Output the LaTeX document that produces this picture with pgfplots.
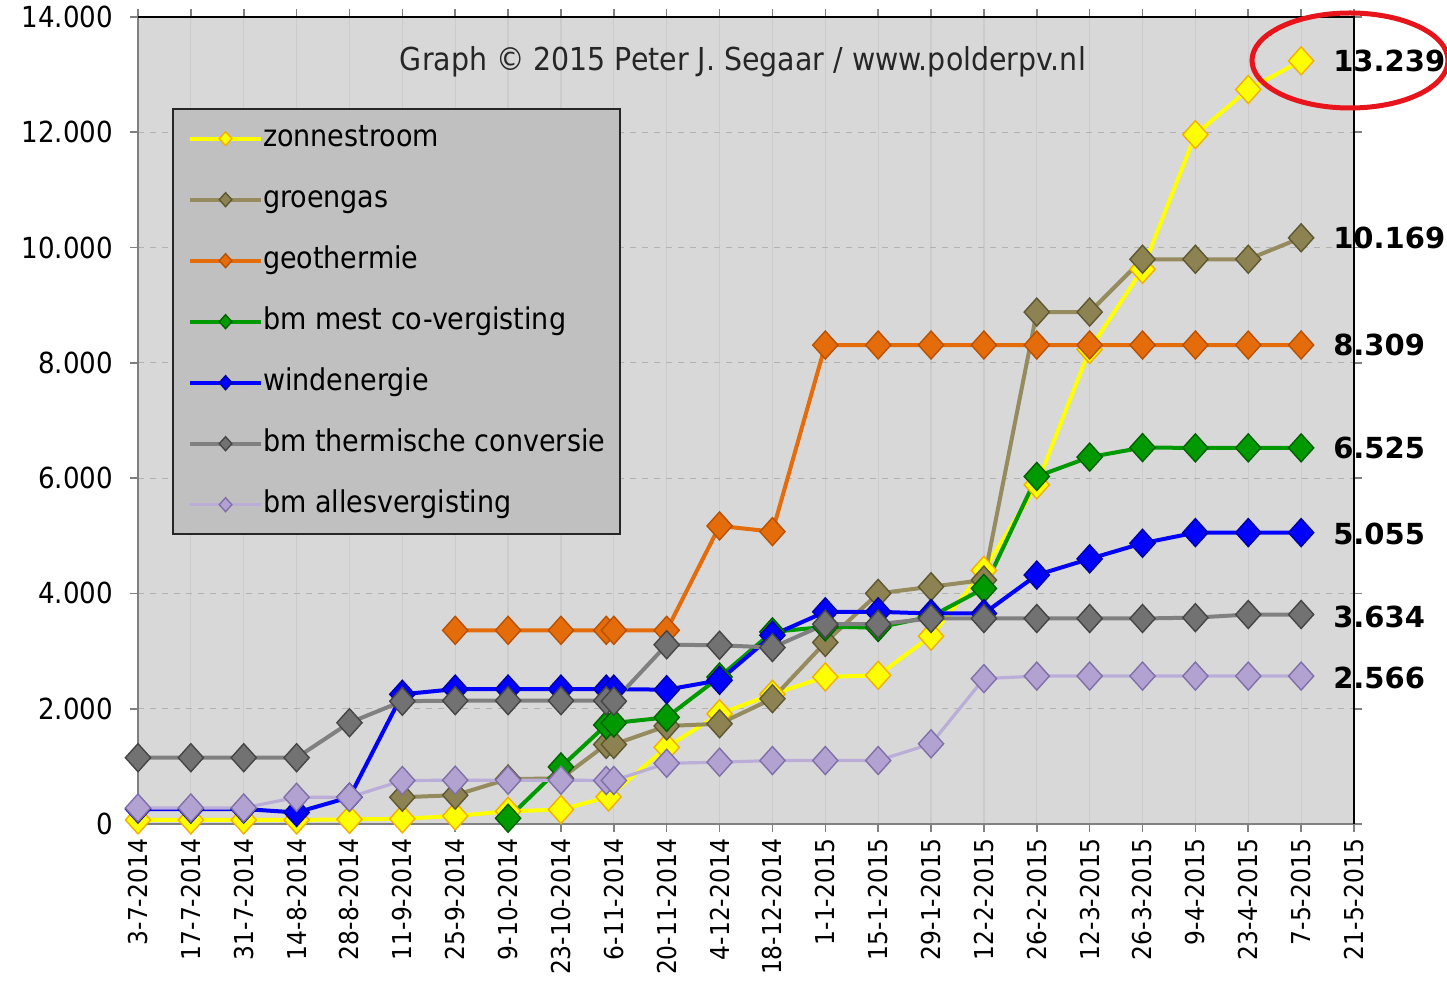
\documentclass[border=0pt]{standalone}
\usepackage{fontspec}
\setmainfont{DejaVu Sans Condensed}
\newfontfamily\lblfont{DejaVu Sans}
\usepackage{pgfplots}
\pgfplotsset{compat=1.18}

\definecolor{bgplot}{HTML}{D8D8D8}
\definecolor{legbg}{HTML}{C0C0C0}
\definecolor{zon}{HTML}{FFFF00}
\definecolor{zonedge}{HTML}{F0B000}
\definecolor{groen}{HTML}{958B5E}
\definecolor{groenmk}{HTML}{8C8252}
\definecolor{groenedge}{HTML}{5E5830}
\definecolor{geo}{HTML}{E46C0A}
\definecolor{geoedge}{HTML}{B85200}
\definecolor{mest}{HTML}{009A00}
\definecolor{mestedge}{HTML}{006000}
\definecolor{wind}{HTML}{0000FF}
\definecolor{windedge}{HTML}{0000A0}
\definecolor{therm}{HTML}{808080}
\definecolor{thermmk}{HTML}{727272}
\definecolor{thermedge}{HTML}{454545}
\definecolor{alles}{HTML}{BAAED8}
\definecolor{allesmk}{HTML}{B2A2D2}
\definecolor{allesedge}{HTML}{8070A8}
\definecolor{circ}{HTML}{E8141B}

\pgfplotsset{
  ser/.style n args={4}{color=#1, line width=#4, mark=diamond*, mark size=7pt,
    mark options={solid, fill=#2, draw=#3, line width=0.7pt, xscale=1.2}},
}

\begin{document}
\begin{tikzpicture}
\begin{axis}[
  at={(0pt,0pt)}, anchor=south west,
  scale only axis, width=608pt, height=403.5pt,
  xmin=0, xmax=23, ymin=0, ymax=14000,
  clip=false,
  axis background/.style={fill=bgplot},
  axis line style={draw=gray, line width=1pt},
  xtick={0,...,23},
  xticklabels={3-7-2014,17-7-2014,31-7-2014,14-8-2014,28-8-2014,11-9-2014,25-9-2014,
    9-10-2014,23-10-2014,6-11-2014,20-11-2014,4-12-2014,18-12-2014,1-1-2015,15-1-2015,
    29-1-2015,12-2-2015,26-2-2015,12-3-2015,26-3-2015,9-4-2015,23-4-2015,7-5-2015,21-5-2015},
  xticklabel style={rotate=90, anchor=east, font=\fontsize{13}{13}\selectfont},
  ytick={0,2000,...,14000},
  yticklabels={0,2.000,4.000,6.000,8.000,10.000,12.000,14.000},
  yticklabel style={font=\fontsize{14.5}{14.5}\selectfont, xshift=-5pt},
  tick align=outside, major tick length=4pt,
  tick style={draw=gray, line width=0.8pt},
  grid=major,
  x grid style={draw=black!20, line width=0.6pt},
  y grid style={draw=black!30, dashed, line width=0.6pt},
  legend style={at={(rel axis cs:0.028,0.887)}, anchor=north west,
    fill=legbg, draw=black!85, line width=1pt,
    font=\fontsize{15}{15}\selectfont,
    inner xsep=7.5pt, inner ysep=7.5pt, row sep=16pt,
    nodes={inner sep=0pt, text height=11pt, text depth=3.5pt},
    /tikz/every even column/.append style={column sep=2pt}},
  legend cell align=left,
  legend image code/.code={
    \draw[#1] (0pt,0pt) -- (35.5pt,0pt);
    \draw[#1, mark size=3.5pt, line width=0.6pt] plot coordinates {(17.75pt,0pt)};
  },
]
\addplot[ser={zon}{zon}{zonedge}{2pt}] coordinates {
(0,70)(1,70)(2,70)(3,70)(4,80)(5,90)(6,140)(7,220)(8,250)(8.9,470)(10,1330)
(11,1913)(12,2250)(13,2551)(14,2580)(15,3258)(16,4400)(17,5884)(18,8232)
(19,9623)(20,11959)(21,12742)(22,13239)
};
\addlegendentry{zonnestroom}
\addplot[ser={groen}{groenmk}{groenedge}{2pt}] coordinates {
(5,464)(6,500)(7,780)(8,790)(8.857,1380)(9,1380)(10,1700)(11,1739)(12,2174)
(13,3150)(14,4000)(15,4116)(16,4232)(17,8881)(18,8881)(19,9797)(20,9797)
(21,9797)(22,10169)
};
\addlegendentry{groengas}
\addplot[ser={geo}{geo}{geoedge}{2pt}] coordinates {
(6,3360)(7,3360)(8,3360)(8.857,3360)(9,3360)(10,3360)(11,5171)(12,5072)
(13,8309)(14,8309)(15,8309)(16,8309)(17,8309)(18,8309)(19,8309)(20,8309)
(21,8309)(22,8309)
};
\addlegendentry{geothermie}
\addplot[ser={mest}{mest}{mestedge}{2pt}] coordinates {
(7,100)(8,990)(8.857,1718)(9,1752)(10,1850)(11,2550)(12,3333)(13,3420)
(14,3409)(15,3600)(16,4087)(17,6029)(18,6365)(19,6530)(20,6525)(21,6525)(22,6525)
};
\addlegendentry{bm mest co-vergisting}
\addplot[ser={wind}{wind}{windedge}{2pt}] coordinates {
(0,260)(1,260)(2,260)(3,200)(4,464)(5,2250)(6,2340)(7,2340)(8,2340)(8.857,2340)
(9,2340)(10,2330)(11,2493)(12,3275)(13,3681)(14,3681)(15,3652)(16,3652)
(17,4319)(18,4600)(19,4870)(20,5055)(21,5055)(22,5055)
};
\addlegendentry{windenergie}
\addplot[ser={therm}{thermmk}{thermedge}{2pt}] coordinates {
(0,1150)(1,1150)(2,1150)(3,1150)(4,1757)(5,2130)(6,2140)(7,2140)(8,2140)
(8.857,2140)(9,2130)(10,3110)(11,3101)(12,3061)(13,3467)(14,3467)(15,3565)
(16,3565)(17,3565)(18,3565)(19,3565)(20,3580)(21,3634)(22,3634)
};
\addlegendentry{bm thermische conversie}
\addplot[ser={alles}{allesmk}{allesedge}{1.6pt}] coordinates {
(0,278)(1,278)(2,278)(3,464)(4,464)(5,754)(6,760)(7,760)(8,760)(8.857,755)
(9,755)(10,1053)(11,1072)(12,1101)(13,1101)(14,1101)(15,1391)(16,2522)
(17,2566)(18,2566)(19,2566)(20,2566)(21,2566)(22,2566)
};
\addlegendentry{bm allesvergisting}

\node[font=\fontsize{15.8}{15.8}\selectfont, text=black!85]
  at (rel axis cs:0.4975,0.944) {Graph © 2015 Peter J. Segaar / www.polderpv.nl};

\begin{scope}[every node/.style={anchor=west, inner sep=0pt,
    font=\lblfont\bfseries\fontsize{14.5}{14.5}\selectfont}]
\node at (axis cs:22.6,13239) {13.239};
\node at (axis cs:22.6,10169) {10.169};
\node at (axis cs:22.6,8309) {8.309};
\node at (axis cs:22.6,6525) {6.525};
\node at (axis cs:22.6,5030) {5.055};
\node at (axis cs:22.6,3600) {3.634};
\node at (axis cs:22.6,2530) {2.566};
\end{scope}

\draw[black, line width=1.2pt] (rel axis cs:0,1) -- (rel axis cs:1,1) -- (rel axis cs:1,0);
\end{axis}

\draw[circ, line width=2.5pt] (606pt,381.75pt) ellipse [x radius=49pt, y radius=23.75pt];

\pgfresetboundingbox
\path[use as bounding box] (-69pt,-83pt) rectangle (654.5pt,412pt);
\end{tikzpicture}
\end{document}
